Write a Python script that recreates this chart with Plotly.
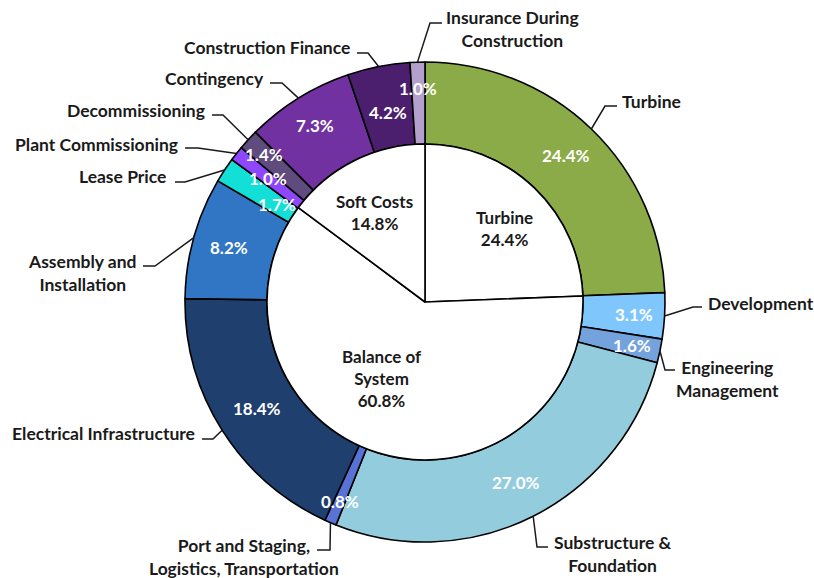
import math
import plotly.graph_objects as go

W, H = 814, 578

# ---------------- data ----------------
categories = [
    "Turbine", "Development", "Engineering Management",
    "Substructure & Foundation", "Port and Staging, Logistics, Transportation",
    "Electrical Infrastructure", "Assembly and Installation", "Lease Price",
    "Plant Commissioning", "Decommissioning", "Contingency",
    "Construction Finance", "Insurance During Construction",
]
shares = [24.4, 3.1, 1.6, 27.0, 0.8, 18.4, 8.2, 1.7, 1.0, 1.4, 7.3, 4.2, 1.0]

groups = ["Turbine", "Balance of System", "Soft Costs"]
group_shares = [24.4, 60.8, 14.8]

# ---------------- styles / layout ----------------
colors = ["#8AAB47", "#7FC6FC", "#73A2DC", "#93CDDD", "#5872D6", "#1F3F6E",
          "#3076C4", "#12E0D6", "#8E47FA", "#5F4B7E", "#7131A0", "#4B1F6E",
          "#B4A0CC"]

display_labels = [
    "Turbine", "Development", "Engineering<br>Management",
    "Substructure &<br>Foundation", "Port and Staging,<br>Logistics, Transportation",
    "Electrical Infrastructure", "Assembly and<br>Installation", "Lease Price",
    "Plant Commissioning", "Decommissioning", "Contingency",
    "Construction Finance", "Insurance During<br>Construction",
]
group_display = ["Turbine", "Balance of<br>System", "Soft Costs"]

# (elbow x, elbow y, end x, end y, text x, text y, xanchor) in pixels
label_layout = [
    (605, 106, 617, 106, 620, 101, "left"),
    (693, 307, 702, 307, 706, 303, "left"),
    (665, 370, 675, 370, 727, 379, "center"),
    (537, 547, 548, 547, 613, 554, "center"),
    (330, 550, 317, 550, 244, 557, "center"),
    (213, 439, 202, 439, 197, 433, "right"),
    (155, 266, 143, 266, 82, 273, "center"),
    (185, 182, 175, 182, 168, 177, "right"),
    (198, 148, 185, 148, 180, 144, "right"),
    (223, 115, 212, 115, 207, 110, "right"),
    (282, 83, 270, 83, 266, 78, "right"),
    (368, 53, 357, 53, 352, 47, "right"),
    (430, 23, 442, 23, 512, 29, "center"),
]
# radius (px) at which each percentage label sits on its slice's mid-angle
pct_radius = [203, 209, 211, 202, 217, 199, 203, 177, 200, 218, 208, 193, 214]
# inner group label centres (px)
group_label_pos = [(504, 228), (382, 378), (374, 212)]

CX, CY = 425, 302
R_OUT, R_IN = 240, 158
FONT = "Lato"
TXT = "#1a1a1a"


def px(x):
    return x / W


def py(y):
    return 1 - y / H


fig = go.Figure()

fig.add_trace(go.Pie(
    labels=categories, values=shares, sort=False, direction="clockwise",
    rotation=0, hole=R_IN / R_OUT,
    marker=dict(colors=colors, line=dict(color="#000000", width=1.6)),
    textinfo="none",
    domain=dict(x=[px(CX - R_OUT), px(CX + R_OUT)], y=[py(CY + R_OUT), py(CY - R_OUT)]),
    showlegend=False, hoverinfo="label+value",
))

fig.add_trace(go.Pie(
    labels=groups, values=group_shares, sort=False, direction="clockwise",
    rotation=0,
    marker=dict(colors=["white"] * 3, line=dict(color="#000000", width=1.6)),
    textinfo="none",
    domain=dict(x=[px(CX - R_IN), px(CX + R_IN)], y=[py(CY + R_IN), py(CY - R_IN)]),
    showlegend=False, hoverinfo="label+value",
))

total = sum(shares)
cum = 0.0
shapes, annotations = [], []
for lab, v, (ex, ey, tx, ty, ax, ay, anchor), rr in zip(display_labels, shares, label_layout, pct_radius):
    mid = (cum + v / 2) / total * 2 * math.pi
    cum += v
    sx = CX + R_OUT * math.sin(mid)
    sy = CY - R_OUT * math.cos(mid)
    path = f"M {px(sx)} {py(sy)} L {px(ex)} {py(ey)} L {px(tx)} {py(ty)}"
    shapes.append(dict(type="path", xref="paper", yref="paper", path=path,
                       line=dict(color=TXT, width=1.5)))
    annotations.append(dict(x=px(ax), y=py(ay), xref="paper", yref="paper",
                            text=lab, showarrow=False, xanchor=anchor,
                            yanchor="middle", align="center",
                            font=dict(family=FONT, size=17.5, color=TXT, weight="bold")))
    # percentage label on the ring
    lx = CX + rr * math.sin(mid)
    ly = CY - rr * math.cos(mid)
    annotations.append(dict(x=px(lx), y=py(ly), xref="paper", yref="paper",
                            text=f"{v:.1f}%", showarrow=False, xanchor="center",
                            yanchor="middle",
                            font=dict(family=FONT, size=17, color="white", weight="bold")))

for lab, v, (gx, gy) in zip(group_display, group_shares, group_label_pos):
    annotations.append(dict(x=px(gx), y=py(gy), xref="paper", yref="paper",
                            text=f"{lab}<br>{v:.1f}%", showarrow=False,
                            xanchor="center", yanchor="middle", align="center",
                            font=dict(family=FONT, size=17, color=TXT, weight="bold")))

fig.update_layout(
    width=W, height=H, margin=dict(l=0, r=0, t=0, b=0),
    paper_bgcolor="white", plot_bgcolor="white",
    shapes=shapes, annotations=annotations,
)

fig.write_html("out.html", config={"displayModeBar": False},
               post_script="document.body.style.margin='0';")
